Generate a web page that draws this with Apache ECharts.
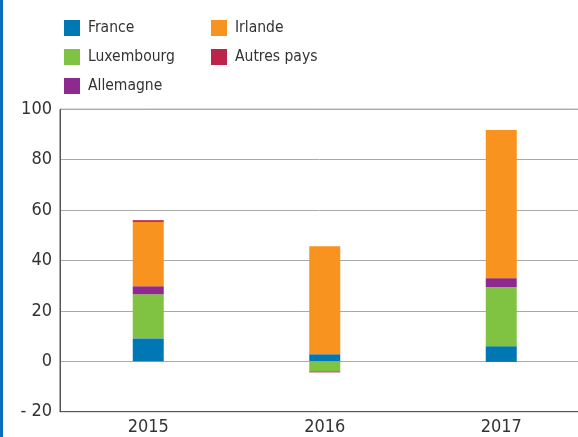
<!DOCTYPE html>
<html>
<head>
<meta charset="utf-8">
<script src="https://cdn.jsdelivr.net/npm/echarts@6/dist/echarts.min.js"></script>
<style>
html,body{margin:0;padding:0;background:#fff;}
#chart{width:578px;height:437px;}
</style>
</head>
<body>
<div id="chart"></div>
<script>
var categories = ['2015', '2016', '2017'];
var france = [9.1, 2.8, 6.0];
var luxembourg = [17.5, -4.0, 23.4];
var allemagne = [3.2, 0, 3.6];
var irlande = [25.5, 42.9, 58.8];
var autres = [0.7, -0.4, -0.3];

var FONT = '"DejaVu Sans Condensed", "Liberation Sans Narrow", sans-serif';
var chart = echarts.init(document.getElementById('chart'), null, {renderer: 'canvas'});

function s(name, data, color) {
  return {
    name: name, type: 'bar', stack: 'total', data: data, barWidth: 31,
    itemStyle: {color: color}, emphasis: {disabled: true}
  };
}

chart.setOption({
  animation: false,
  textStyle: {fontFamily: FONT},
  graphic: [{type: 'rect', left: 0, top: 0, shape: {width: 3, height: 437}, style: {fill: '#0a6ebd'}}],
  legend: [
    {
      data: ['France', 'Luxembourg', 'Allemagne'], orient: 'vertical', left: 59, top: 15,
      itemWidth: 16, itemHeight: 16, itemGap: 13, icon: 'rect', selectedMode: false,
      textStyle: {fontFamily: FONT, fontSize: 15.5, color: '#333', lineHeight: 16, padding: [0, 0, 0, 3]}
    },
    {
      data: ['Irlande', 'Autres pays'], orient: 'vertical', left: 206, top: 15,
      itemWidth: 16, itemHeight: 16, itemGap: 13, icon: 'rect', selectedMode: false,
      textStyle: {fontFamily: FONT, fontSize: 15.5, color: '#333', lineHeight: 16, padding: [0, 0, 0, 3]}
    }
  ],
  grid: {left: 60, top: 109.3, width: 529.5, bottom: 25.3, outerBoundsMode: 'none', containLabel: false,
    show: true, borderColor: '#555', borderWidth: 1, backgroundColor: 'transparent'},
  xAxis: {
    type: 'category', data: categories,
    axisLine: {show: true, onZero: false, lineStyle: {color: '#555'}},
    axisTick: {show: false},
    axisLabel: {fontFamily: FONT, fontSize: 18, color: '#333', margin: 7}
  },
  yAxis: {
    type: 'value', min: -20, max: 100, interval: 20,
    axisLine: {show: true, lineStyle: {color: '#555'}},
    axisTick: {show: false},
    splitLine: {lineStyle: {color: '#aaa'}},
    axisLabel: {
      fontFamily: FONT, fontSize: 18, color: '#333', margin: 8,
      formatter: function (v) { return v < 0 ? '- ' + Math.abs(v) : String(v); }
    }
  },
  series: [
    s('France', france, '#0077b5'),
    s('Luxembourg', luxembourg, '#80c342'),
    s('Allemagne', allemagne, '#8e2a8f'),
    s('Irlande', irlande, '#f7931e'),
    s('Autres pays', autres, '#bc2449')
  ]
});
</script>
</body>
</html>
